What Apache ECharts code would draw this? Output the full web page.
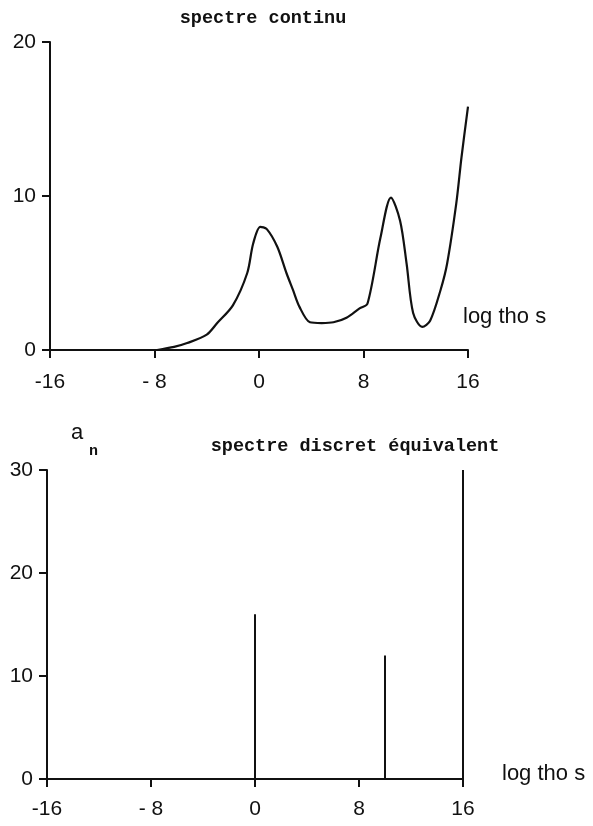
<!DOCTYPE html>
<html>
<head>
<meta charset="utf-8">
<script src="https://cdn.jsdelivr.net/npm/echarts@6/dist/echarts.min.js"></script>
<style>
html,body{margin:0;padding:0;background:#fff;}
#chart{width:593px;height:826px;}
</style>
</head>
<body>
<div id="chart"></div>
<script>
// ---- data ----
var curveX = [-7.8, -6.5, -5.5, -4.0, -3.2, -2.0, -0.9, -0.45, 0.1, 0.6, 1.4, 2.1, 2.6, 3.1, 3.9, 4.8, 5.7, 6.7, 7.7, 8.3, 9.3, 10.1, 10.8, 11.3, 11.8, 12.5, 13.1, 13.9, 14.4, 15.1, 15.5, 16.0];
var curveY = [0, 0.2, 0.45, 1.0, 1.75, 2.9, 5.0, 6.9, 8.0, 7.85, 6.7, 5.0, 3.9, 2.8, 1.8, 1.75, 1.8, 2.1, 2.7, 3.0, 7.3, 9.9, 8.4, 5.6, 2.4, 1.5, 1.9, 3.9, 5.6, 9.5, 12.5, 15.8];
var discreteX = [0, 10, 16];
var discreteY = [16, 12, 30];
var xTicks = [-16, -8, 0, 8, 16];
var xTickLabels = ['-16', '- 8', '0', '8', '16'];
var titleTop = 'spectre continu';
var titleBottom = 'spectre discret équivalent';
var xName = 'log tho s';

var curveData = curveX.map(function (x, i) { return [x, curveY[i]]; });
var discreteData = discreteX.map(function (x, i) { return [x, discreteY[i]]; });

var ink = '#111';
var labelFont = 'Liberation Sans, Arial, sans-serif';
var monoFont = 'Liberation Mono, DejaVu Sans Mono, monospace';

function xAxisCfg(gridIndex, margin) {
  return {
    type: 'value', gridIndex: gridIndex, min: -16, max: 16, interval: 8,
    axisLine: { show: true, onZero: false, lineStyle: { color: ink, width: 2 } },
    axisTick: { show: true, length: 8, lineStyle: { color: ink, width: 2 } },
    splitLine: { show: false },
    axisLabel: {
      color: ink, fontFamily: labelFont, fontSize: 21, margin: margin,
      formatter: function (v) { var i = xTicks.indexOf(v); return i >= 0 ? xTickLabels[i] : ''; }
    }
  };
}
function yAxisCfg(gridIndex, max) {
  return {
    type: 'value', gridIndex: gridIndex, min: 0, max: max, interval: 10,
    axisLine: { show: true, onZero: false, lineStyle: { color: ink, width: 2 } },
    axisTick: { show: true, length: 8, lineStyle: { color: ink, width: 2 } },
    splitLine: { show: false },
    axisLabel: { color: ink, fontFamily: labelFont, fontSize: 21, margin: 14 }
  };
}

var chart = echarts.init(document.getElementById('chart'));
chart.setOption({
  backgroundColor: '#fff',
  animation: false,
  title: [
    { text: titleTop, left: 258, top: 4, textAlign: 'center',
      textStyle: { fontFamily: monoFont, fontWeight: 'bold', fontSize: 18.5, color: ink } },
    { text: titleBottom, left: 350, top: 432, textAlign: 'center',
      textStyle: { fontFamily: monoFont, fontWeight: 'bold', fontSize: 18.5, color: ink } }
  ],
  grid: [
    { left: 50, right: 125, top: 42, height: 308 },
    { left: 47, right: 130, top: 470, height: 309 }
  ],
  xAxis: [xAxisCfg(0, 22), xAxisCfg(1, 20)],
  yAxis: [yAxisCfg(0, 20), yAxisCfg(1, 30)],
  graphic: [
    { type: 'text', left: 463, top: 306, style: { text: xName, fontFamily: labelFont, fontSize: 22, fill: ink } },
    { type: 'text', left: 502, top: 763, style: { text: xName, fontFamily: labelFont, fontSize: 22, fill: ink } },
    { type: 'text', left: 71, top: 422, style: { text: 'a', fontFamily: labelFont, fontSize: 22, fill: ink } },
    { type: 'text', left: 89, top: 444, style: { text: 'n', fontFamily: monoFont, fontWeight: 'bold', fontSize: 15, fill: ink } }
  ],
  series: [
    { type: 'line', xAxisIndex: 0, yAxisIndex: 0, data: curveData, smooth: 0.3,
      showSymbol: false, lineStyle: { color: ink, width: 2.2 } },
    { type: 'bar', xAxisIndex: 1, yAxisIndex: 1, data: discreteData, barWidth: 2,
      itemStyle: { color: ink } }
  ]
});
</script>
</body>
</html>
